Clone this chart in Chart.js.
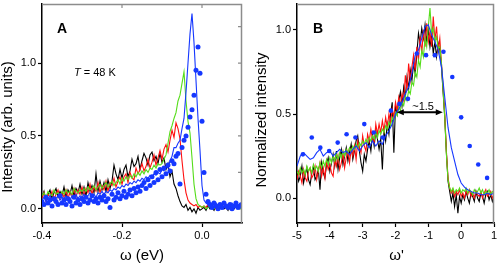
<!DOCTYPE html>
<html>
<head>
<meta charset="utf-8">
<script src="https://cdn.jsdelivr.net/npm/chart.js@4.4.1/dist/chart.umd.min.js"></script>
<style>
  html, body { margin: 0; padding: 0; background: #fff; }
  #wrap { position: relative; width: 498px; height: 264px; }
  canvas { position: absolute; top: 0; }
  #chartA { left: 0; }
  #chartB { left: 249px; }
</style>
</head>
<body>
<div id="wrap">
  <canvas id="chartA" width="249" height="264"></canvas>
  <canvas id="chartB" width="249" height="264"></canvas>
</div>
<script>
// ---- panel A : intensity vs omega (eV) ----
const omegaA = [
  -0.400,-0.395,-0.390,-0.385,-0.380,-0.375,-0.370,-0.365,-0.360,-0.355,
  -0.350,-0.345,-0.340,-0.335,-0.330,-0.325,-0.320,-0.315,-0.310,-0.305,
  -0.300,-0.295,-0.290,-0.285,-0.280,-0.275,-0.270,-0.265,-0.260,-0.255,
  -0.250,-0.245,-0.240,-0.235,-0.230,-0.225,-0.220,-0.215,-0.210,-0.205,
  -0.200,-0.195,-0.190,-0.185,-0.180,-0.175,-0.170,-0.165,-0.160,-0.155,
  -0.150,-0.145,-0.140,-0.135,-0.130,-0.125,-0.120,-0.115,-0.110,-0.105,
  -0.100,-0.095,-0.090,-0.085,-0.080,-0.075,-0.070,-0.065,-0.060,-0.055,
  -0.050,-0.045,-0.040,-0.035,-0.030,-0.025,-0.020,-0.015,-0.010,-0.005,
   0.000, 0.005, 0.010, 0.015, 0.020, 0.025, 0.030, 0.035, 0.040, 0.045,
   0.050, 0.055, 0.060, 0.065, 0.070, 0.075, 0.080, 0.085, 0.090, 0.095,
   0.100
];
const blackA = [
  0.08,0.12,0.06,0.10,0.13,0.07,0.11,0.14,0.08,0.12,
  0.09,0.15,0.08,0.13,0.10,0.16,0.09,0.14,0.11,0.17,
  0.10,0.15,0.09,0.18,0.12,0.16,0.11,0.24,0.12,0.19,
  0.13,0.18,0.12,0.20,0.14,0.19,0.30,0.24,0.20,0.27,
  0.21,0.27,0.30,0.22,0.26,0.34,0.29,0.31,0.36,0.27,
  0.33,0.38,0.35,0.30,0.37,0.39,0.33,0.36,0.31,0.38,
  0.32,0.35,0.27,0.31,0.22,0.26,0.17,0.14,0.09,0.05,
  0.02,0.01,0.03,-0.01,0.01,-0.02,0.00,-0.03,0.01,-0.01,
  0.00,0.01,-0.01,0.02,0.00,0.01,-0.01,0.02,0.00,0.01,
  0.02,0.00,0.01,-0.01,0.02,0.01,0.00,0.02,0.01,0.00,
  0.01
];
const redA = [
  0.07,0.11,0.05,0.10,0.08,0.12,0.06,0.10,0.13,0.07,
  0.11,0.08,0.13,0.07,0.12,0.09,0.14,0.08,0.13,0.10,
  0.15,0.09,0.14,0.11,0.17,0.10,0.15,0.12,0.18,0.11,
  0.16,0.13,0.19,0.12,0.18,0.16,0.21,0.15,0.19,0.22,
  0.17,0.22,0.24,0.18,0.25,0.21,0.20,0.28,0.24,0.27,
  0.31,0.26,0.29,0.34,0.28,0.32,0.37,0.30,0.35,0.40,
  0.34,0.41,0.44,0.39,0.47,0.54,0.49,0.59,0.55,0.48,
  0.33,0.20,0.11,0.06,0.04,0.03,0.02,0.03,0.01,0.02,
  0.01,0.02,0.01,0.03,0.02,0.01,0.02,0.00,0.02,0.01,
  0.03,0.01,0.02,0.00,0.01,0.02,0.01,0.03,0.01,0.02,
  0.01
];
const greenA = [
  0.09,0.11,0.08,0.12,0.10,0.09,0.13,0.10,0.11,0.09,
  0.12,0.10,0.13,0.11,0.12,0.10,0.14,0.12,0.11,0.13,
  0.12,0.14,0.12,0.15,0.13,0.14,0.16,0.13,0.15,0.17,
  0.14,0.16,0.18,0.15,0.17,0.19,0.16,0.18,0.20,0.17,
  0.21,0.19,0.22,0.20,0.23,0.21,0.24,0.22,0.25,0.23,
  0.26,0.24,0.27,0.25,0.28,0.27,0.30,0.28,0.31,0.30,
  0.31,0.34,0.37,0.45,0.53,0.57,0.62,0.66,0.74,0.78,
  0.86,0.94,0.74,0.60,0.52,0.35,0.17,0.07,0.03,0.02,
  0.01,0.02,0.00,0.01,0.02,0.01,0.00,0.02,0.01,0.02,
  0.00,0.01,0.02,0.01,0.00,0.02,0.01,0.01,0.02,0.00,
  0.01
];
const blueA = [
  0.06,0.08,0.05,0.07,0.09,0.06,0.08,0.07,0.09,0.06,
  0.08,0.07,0.09,0.08,0.06,0.09,0.08,0.10,0.07,0.09,
  0.08,0.10,0.08,0.09,0.11,0.09,0.10,0.08,0.11,0.10,
  0.12,0.10,0.12,0.11,0.13,0.12,0.14,0.13,0.15,0.14,
  0.16,0.15,0.17,0.16,0.18,0.17,0.19,0.18,0.20,0.19,
  0.21,0.20,0.22,0.21,0.23,0.22,0.24,0.23,0.25,0.24,
  0.27,0.26,0.29,0.28,0.33,0.36,0.42,0.42,0.45,0.47,
  0.55,0.62,0.80,1.00,1.20,1.34,1.14,0.88,0.62,0.40,
  0.16,0.06,0.04,0.03,0.04,0.02,0.03,0.04,0.02,0.03,
  0.02,0.04,0.03,0.02,0.03,0.04,0.02,0.03,0.02,0.04,
  0.03
];
const blueDotsA = [
  0.05,0.03,0.08,0.04,0.06,0.02,0.07,0.05,0.03,0.09,
  0.04,0.06,0.03,0.07,0.05,0.02,0.08,0.04,0.06,0.03,
  0.07,0.05,0.08,0.04,0.06,0.09,0.05,0.07,0.04,0.08,
  0.06,0.09,0.05,0.07,0.01,0.10,0.06,0.08,0.11,0.07,
  0.09,0.12,0.08,0.10,0.13,0.09,0.14,0.11,0.15,0.12,
  0.16,0.18,0.14,0.20,0.16,0.22,0.18,0.25,0.20,0.27,
  0.22,0.28,0.24,0.30,0.26,0.33,0.31,0.36,0.38,0.17,
  0.42,0.47,0.50,0.56,0.63,0.68,0.78,0.95,1.11,0.93,
  0.60,0.25,0.10,0.05,0.03,0.01,0.04,0.02,0.00,0.03,
  0.01,0.04,0.02,0.01,0.03,0.00,0.02,0.04,0.01,0.02,
  0.03
];
const xTicksA = [-0.4, -0.2, 0.0];
const yTicksA = [0.0, 0.5, 1.0];

// ---- panel B : normalized intensity vs omega' ----
const omegaB = [
  -5.00,-4.95,-4.90,-4.85,-4.80,-4.75,-4.70,-4.65,-4.60,-4.55,
  -4.50,-4.45,-4.40,-4.35,-4.30,-4.25,-4.20,-4.15,-4.10,-4.05,
  -4.00,-3.95,-3.90,-3.85,-3.80,-3.75,-3.70,-3.65,-3.60,-3.55,
  -3.50,-3.45,-3.40,-3.35,-3.30,-3.25,-3.20,-3.15,-3.10,-3.05,
  -3.00,-2.95,-2.90,-2.85,-2.80,-2.75,-2.70,-2.65,-2.60,-2.55,
  -2.50,-2.45,-2.40,-2.35,-2.30,-2.25,-2.20,-2.15,-2.10,-2.05,
  -2.00,-1.95,-1.90,-1.85,-1.80,-1.75,-1.70,-1.65,-1.60,-1.55,
  -1.50,-1.45,-1.40,-1.35,-1.30,-1.25,-1.20,-1.15,-1.10,-1.05,
  -1.00,-0.95,-0.90,-0.85,-0.80,-0.75,-0.70,-0.65,-0.60,-0.55,
  -0.50,-0.45,-0.40,-0.35,-0.30,-0.25,-0.20,-0.15,-0.10,-0.05,
   0.00, 0.05, 0.10, 0.15, 0.20, 0.25, 0.30, 0.35, 0.40, 0.45,
   0.50, 0.55, 0.60, 0.65, 0.70, 0.75, 0.80, 0.85, 0.90, 0.95,
   1.00
];
const blackB = [
  0.16,0.10,0.13,0.19,0.09,0.14,0.18,0.11,0.08,0.15,
  0.19,0.11,0.13,0.17,0.05,0.21,0.15,0.12,0.20,0.24,
  0.16,0.21,0.26,0.19,0.28,0.17,0.24,0.29,0.20,0.25,
  0.30,0.22,0.27,0.32,0.23,0.28,0.34,0.37,0.28,0.21,
  0.16,0.26,0.22,0.29,0.34,0.28,0.38,0.31,0.40,0.35,
  0.29,0.35,0.17,0.40,0.34,0.44,0.38,0.50,0.57,0.27,
  0.55,0.50,0.58,0.63,0.55,0.66,0.60,0.72,0.65,0.76,
  0.70,0.80,0.74,0.86,0.98,0.92,1.01,0.95,1.03,0.93,
  1.00,0.90,0.97,0.86,0.93,0.84,0.92,0.88,0.78,0.63,
  0.48,0.27,0.10,0.04,-0.02,0.03,-0.05,0.02,-0.09,0.01,
  -0.03,0.02,-0.01,0.04,0.00,-0.03,0.03,0.01,-0.02,0.04,
  0.00,-0.02,0.03,0.01,-0.03,0.02,0.04,-0.01,0.02,-0.02,
  0.01
];
const redB = [
  0.11,0.16,0.13,0.09,0.17,0.12,0.10,0.16,0.18,0.12,
  0.14,0.19,0.11,0.16,0.21,0.13,0.18,0.12,0.22,0.17,
  0.20,0.15,0.13,0.23,0.19,0.25,0.17,0.21,0.27,0.18,
  0.24,0.28,0.21,0.29,0.25,0.31,0.23,0.34,0.30,0.27,
  0.37,0.31,0.28,0.38,0.34,0.41,0.35,0.33,0.44,0.38,
  0.44,0.39,0.46,0.40,0.48,0.42,0.50,0.45,0.53,0.48,
  0.57,0.52,0.60,0.55,0.62,0.58,0.73,0.64,0.80,0.70,
  0.78,0.85,0.76,0.90,0.82,0.96,0.86,1.00,0.90,1.04,
  0.93,0.99,0.90,1.08,0.94,1.02,0.88,0.95,0.80,0.66,
  0.50,0.28,0.12,0.06,0.03,0.05,0.01,0.04,0.02,0.05,
  0.01,0.03,0.00,0.04,0.02,0.05,0.01,0.03,0.00,0.04,
  0.02,0.01,0.04,0.00,0.03,0.05,0.01,0.02,0.04,0.00,
  0.02
];
const greenB = [
  0.16,0.14,0.18,0.15,0.17,0.14,0.19,0.16,0.18,0.15,
  0.20,0.17,0.19,0.16,0.21,0.18,0.22,0.19,0.23,0.20,
  0.24,0.21,0.25,0.22,0.26,0.23,0.27,0.24,0.28,0.25,
  0.29,0.27,0.30,0.28,0.31,0.29,0.32,0.30,0.33,0.31,
  0.34,0.32,0.35,0.33,0.36,0.34,0.37,0.35,0.39,0.36,
  0.40,0.38,0.41,0.39,0.43,0.41,0.45,0.43,0.48,0.46,
  0.51,0.49,0.54,0.52,0.57,0.55,0.61,0.58,0.64,0.62,
  0.69,0.67,0.75,0.72,0.82,0.78,0.88,0.84,0.95,0.90,
  1.02,1.13,0.98,1.01,0.93,0.96,0.89,0.90,0.80,0.64,
  0.48,0.26,0.11,0.06,0.04,0.06,0.03,0.05,0.04,0.06,
  0.03,0.05,0.04,0.06,0.03,0.05,0.04,0.02,0.05,0.03,
  0.04,0.06,0.03,0.05,0.02,0.04,0.03,0.05,0.02,0.04,
  0.03
];
const omegaBlueB = [
  -5.0,-4.9,-4.8,-4.7,-4.6,-4.5,-4.4,-4.3,-4.2,-4.1,
  -4.0,-3.9,-3.8,-3.7,-3.6,-3.5,-3.4,-3.3,-3.2,-3.1,
  -3.0,-2.9,-2.8,-2.7,-2.6,-2.5,-2.4,-2.3,-2.2,-2.1,
  -2.0,-1.9,-1.8,-1.7,-1.6,-1.5,-1.4,-1.3,-1.2,-1.1,
  -1.0,-0.9,-0.8,-0.7,-0.6,-0.5,-0.4,-0.3,-0.2,-0.1,
   0.0, 0.1, 0.2, 0.3, 0.4, 0.5, 0.6, 0.7, 0.8, 0.9,
   1.0
];
const blueB = [
  0.19,0.25,0.27,0.25,0.23,0.24,0.27,0.29,0.25,0.27,
  0.28,0.25,0.27,0.29,0.27,0.28,0.26,0.29,0.31,0.28,
  0.31,0.33,0.30,0.34,0.31,0.34,0.32,0.37,0.40,0.44,
  0.50,0.53,0.57,0.62,0.66,0.74,0.85,0.88,0.95,1.02,
  1.03,0.97,0.93,0.88,0.78,0.60,0.42,0.30,0.22,0.14,
  0.09,0.065,0.05,0.04,0.03,0.03,0.02,0.02,0.03,0.02,
  0.03
];
const omegaDotsB = [-4.82,-4.55,-4.29,-4.02,-3.76,-3.49,-3.22,-2.95,-2.66,-2.39,-2.14,
                    -1.88,-1.62,-1.35,-1.07,-0.80,-0.54,-0.27,0.00,0.26,0.52,0.79];
const blueDotsB  = [0.26,0.36,0.30,0.28,0.33,0.38,0.36,0.44,0.39,0.36,0.52,
                    0.56,0.59,0.86,0.85,0.85,0.87,0.72,0.48,0.31,0.20,0.12];
const xTicksB = [-5, -4, -3, -2, -1, 0, 1];
const yTicksB = [0.0, 0.5, 1.0];

const FONT = '"Liberation Sans", Arial, Helvetica, sans-serif';
const BLACK = '#000000', RED = '#ff1010', GREEN = '#55dd1a', BLUE = '#1537ff';
Chart.defaults.font.family = FONT;
Chart.defaults.color = '#000';

const pts = (xs, ys) => xs.map((x, i) => ({ x: x, y: ys[i] }));

function lineSet(xs, ys, color, order) {
  return { data: pts(xs, ys), borderColor: color, borderWidth: 1.1, pointRadius: 0,
           showLine: true, tension: 0, order: order };
}
function dotSet(xs, ys, color, r) {
  return { data: pts(xs, ys), showLine: false, pointRadius: r, pointBorderWidth: 0,
           pointBackgroundColor: color, pointBorderColor: color, order: 0 };
}

// keep axis boxes at fixed sizes so the plot areas land where the reference has them
function fixSize(size, horizontal) {
  return function (scale) {
    if (horizontal) scale.height = size; else scale.width = size;
    scale.paddingLeft = 0; scale.paddingRight = 0;
    scale.paddingTop = 0; scale.paddingBottom = 0;
  };
}
function useTicks(values) {
  return function (scale) { scale.ticks = values.map(v => ({ value: v })); };
}
function axis(min, max, ticks, fmt, size, horizontal) {
  return {
    type: 'linear', min: min, max: max,
    afterBuildTicks: useTicks(ticks),
    afterFit: fixSize(size, horizontal),
    ticks: { callback: fmt, font: { size: 11 }, padding: 2, autoSkip: false, maxRotation: 0, color: '#000' },
    grid: { drawOnChartArea: false, tickLength: 4, tickColor: '#000', tickWidth: 1.2 },
    border: { color: '#000', width: 1.5 }
  };
}

function grayFrame(chart, topTicks, rightTicks) {
  const { ctx, chartArea: a, scales } = chart;
  ctx.save();
  ctx.strokeStyle = '#8c8c8c';
  ctx.lineWidth = 1.5;
  ctx.beginPath();
  ctx.moveTo(a.left, a.top + 0.5);
  ctx.lineTo(a.right - 0.5, a.top + 0.5);
  ctx.lineTo(a.right - 0.5, a.bottom);
  ctx.stroke();
  ctx.lineWidth = 1.2;
  ctx.beginPath();
  topTicks.forEach(v => {
    const x = scales.x.getPixelForValue(v);
    ctx.moveTo(x, a.top); ctx.lineTo(x, a.top + 4);
  });
  rightTicks.forEach(v => {
    const y = scales.y.getPixelForValue(v);
    ctx.moveTo(a.right, y); ctx.lineTo(a.right - 4, y);
  });
  ctx.stroke();
  ctx.restore();
}

function vText(ctx, text, x, y, size) {
  ctx.save();
  ctx.translate(x, y);
  ctx.rotate(-Math.PI / 2);
  ctx.font = size + 'px ' + FONT;
  ctx.textAlign = 'center';
  ctx.textBaseline = 'middle';
  ctx.fillText(text, 0, 0);
  ctx.restore();
}

const decorA = {
  id: 'decorA',
  afterDraw(chart) {
    const ctx = chart.ctx;
    grayFrame(chart, [-0.2, 0.0], [0.25, 0.5, 0.75, 1.0, 1.25]);
    ctx.save();
    ctx.fillStyle = '#000';
    ctx.textBaseline = 'alphabetic';
    ctx.font = 'bold 14px ' + FONT;
    ctx.fillText('A', 57, 33);
    ctx.font = 'italic 11px ' + FONT;
    ctx.fillText('T', 74, 76);
    const w = ctx.measureText('T').width;
    ctx.font = '11px ' + FONT;
    ctx.fillText(' = 48 K', 74 + w, 76);
    ctx.font = '15px ' + FONT;
    ctx.textAlign = 'center';
    ctx.fillText('ω (eV)', 142, 260);
    ctx.restore();
    vText(ctx, 'Intensity (arb. units)', 8, 127, 15);
  }
};

const decorB = {
  id: 'decorB',
  afterDraw(chart) {
    const ctx = chart.ctx;
    const sx = chart.scales.x, sy = chart.scales.y;
    grayFrame(chart, [], []);
    // double arrow marking the ~1.5 width
    const x1 = sx.getPixelForValue(-1.96), x2 = sx.getPixelForValue(-0.56), y = sy.getPixelForValue(0.51);
    ctx.save();
    ctx.strokeStyle = '#000';
    ctx.fillStyle = '#000';
    ctx.lineWidth = 2;
    ctx.beginPath();
    ctx.moveTo(x1 + 4, y); ctx.lineTo(x2 - 4, y);
    ctx.stroke();
    ctx.beginPath();
    ctx.moveTo(x1, y); ctx.lineTo(x1 + 7, y - 3); ctx.lineTo(x1 + 7, y + 3); ctx.closePath();
    ctx.moveTo(x2, y); ctx.lineTo(x2 - 7, y - 3); ctx.lineTo(x2 - 7, y + 3); ctx.closePath();
    ctx.fill();
    ctx.font = '11px ' + FONT;
    ctx.textAlign = 'center';
    ctx.textBaseline = 'alphabetic';
    ctx.fillText('~1.5', sx.getPixelForValue(-1.16), y - 2);
    ctx.textAlign = 'left';
    ctx.font = 'bold 14px ' + FONT;
    ctx.fillText('B', 64, 33);
    ctx.font = '15px ' + FONT;
    ctx.textAlign = 'center';
    ctx.fillText('ω\'', 147.5, 260);
    ctx.restore();
    vText(ctx, 'Normalized intensity', 13, 120, 15);
  }
};

const common = {
  responsive: false,
  animation: false,
  devicePixelRatio: 1,
  plugins: { legend: { display: false }, tooltip: { enabled: false } }
};

new Chart(document.getElementById('chartA'), {
  type: 'line',
  data: {
    datasets: [
      lineSet(omegaA, blackA, BLACK, 4),
      lineSet(omegaA, redA, RED, 3),
      lineSet(omegaA, greenA, GREEN, 2),
      lineSet(omegaA, blueA, BLUE, 1),
      dotSet(omegaA, blueDotsA, BLUE, 2.5)
    ]
  },
  options: Object.assign({}, common, {
    layout: { padding: { left: 0, right: 7, top: 1, bottom: 0 } },
    scales: {
      x: axis(-0.4, 0.1, xTicksA, v => v.toFixed(1), 41, true),
      y: axis(-0.097, 1.405, yTicksA, v => v.toFixed(1), 42, false)
    }
  }),
  plugins: [decorA]
});

new Chart(document.getElementById('chartB'), {
  type: 'line',
  data: {
    datasets: [
      lineSet(omegaB, blackB, BLACK, 4),
      lineSet(omegaB, redB, RED, 3),
      lineSet(omegaB, greenB, GREEN, 2),
      lineSet(omegaBlueB, blueB, BLUE, 1),
      dotSet(omegaDotsB, blueDotsB, BLUE, 2.3)
    ]
  },
  options: Object.assign({}, common, {
    layout: { padding: { left: 0, right: 2, top: 1, bottom: 0 } },
    scales: {
      x: axis(-5, 1, xTicksB, v => String(v), 41, true),
      y: axis(-0.148, 1.154, yTicksB, v => v.toFixed(1), 48, false)
    }
  }),
  plugins: [decorB]
});
</script>
</body>
</html>
